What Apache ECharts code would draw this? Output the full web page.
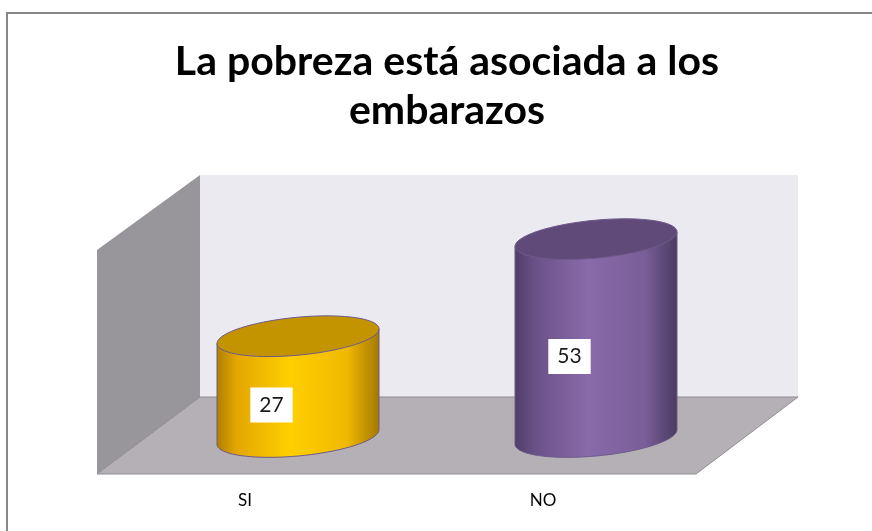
<!DOCTYPE html>
<html><head><meta charset="utf-8">
<script src="https://cdn.jsdelivr.net/npm/echarts@6/dist/echarts.min.js"></script>
<style>html,body{margin:0;padding:0;background:#fff}#c{width:872px;height:531px}</style>
</head><body><div id="c"></div>
<script>
// ---- data ----
const categories = ['SI', 'NO'];
const values = [27, 53];
const titleLines = ['La pobreza está asociada a los', 'embarazos'];

// ---- styles ----
const gradients = [
  [[0,'#ae7e00'],[0.12,'#e3a600'],[0.45,'#ffcf00'],[0.8,'#f0b900'],[1,'#a37800']],
  [[0,'#4f3d66'],[0.12,'#695187'],[0.45,'#896aaa'],[0.8,'#795e99'],[1,'#4a3a60']]
];
const topColors = ['#c49400', '#5f4a79'];
const edgeColor = '#6e5a8a';

const chart = echarts.init(document.getElementById('c'), null, {renderer: 'canvas'});

function ellipsePts(cx, cy, a, b, s, t0, t1, n) {
  const pts = [];
  for (let k = 0; k <= n; k++) {
    const t = t0 + (t1 - t0) * k / n;
    pts.push([cx + a * Math.cos(t), cy + b * Math.sin(t) - a * s * Math.cos(t)]);
  }
  return pts;
}

function renderItem(params, api) {
  const i = params.dataIndex;
  const v = api.value(1);
  const pTop = api.coord([api.value(0), v]);
  const pBase = api.coord([api.value(0), 0]);
  const cx = pTop[0], yt = pTop[1], yb = pBase[1];
  const a = 81, b = 19, s = 0.09;
  const body = [[cx + a, yt - a * s]]
    .concat(ellipsePts(cx, yb, a, b, s, 0, Math.PI, 40))
    .concat([[cx - a, yt + a * s]]);
  const topE = ellipsePts(cx, yt, a, b, s, 0, Math.PI * 2, 72);
  return {
    type: 'group',
    children: [
      {type: 'polygon', shape: {points: body},
        style: {fill: new echarts.graphic.LinearGradient(0, 0, 1, 0,
          gradients[i].map(g => ({offset: g[0], color: g[1]}))),
          stroke: edgeColor, lineWidth: 1}},
      {type: 'polygon', shape: {points: topE},
        style: {fill: topColors[i], stroke: edgeColor, lineWidth: 1}},
      {type: 'text', style: {
        text: String(v), x: cx - 26.5, y: (yt + yb) / 2 + 18.5,
        align: 'center', verticalAlign: 'middle',
        fill: '#1a1a1a', fontSize: 21, fontFamily: 'Lato',
        backgroundColor: '#ffffff', padding: [7, 9, 7, 9]}}
    ]
  };
}

const option = {
  animation: false,
  title: {
    text: titleLines.join('\n'),
    left: 442, top: 32, textAlign: 'center',
    textStyle: {fontFamily: 'Lato', fontWeight: 'bold', fontSize: 41, lineHeight: 49, color: '#000'}
  },
  graphic: [
    {type: 'polyline', z: 0, shape: {points: [[7, 531], [7, 13], [872, 13]]},
      style: {stroke: '#878787', lineWidth: 2, fill: null}},
    {type: 'polygon', z: 0, shape: {points: [[200,175],[798,175],[798,397],[200,397]]},
      style: {fill: '#eceaf1'}},
    {type: 'polygon', z: 0, shape: {points: [[97,250],[200,175],[200,397],[97,474]]},
      style: {fill: '#99969b'}},
    {type: 'polygon', z: 0, shape: {points: [[200,397],[798,397],[696,474],[97,474]]},
      style: {fill: '#b4b0b6', stroke: '#8f8d92', lineWidth: 1}}
  ],
  grid: [
    {left: 149, width: 596, top: 213, bottom: 94},
    {left: 96, width: 596, top: 213, bottom: 94}
  ],
  xAxis: [
    {type: 'category', data: categories, gridIndex: 0, show: false},
    {type: 'category', data: categories, gridIndex: 1,
      axisLine: {show: false}, axisTick: {show: false}, splitLine: {show: false},
      axisLabel: {margin: 55, fontFamily: 'Lato', fontSize: 17, color: '#000'}}
  ],
  yAxis: [
    {type: 'value', min: 0, max: 60, gridIndex: 0, show: false},
    {type: 'value', min: 0, max: 60, gridIndex: 1, show: false}
  ],
  series: [{
    type: 'custom', xAxisIndex: 0, yAxisIndex: 0, z: 10,
    renderItem: renderItem,
    data: values.map((v, i) => [i, v])
  }]
};
chart.setOption(option);
</script>
</body></html>
